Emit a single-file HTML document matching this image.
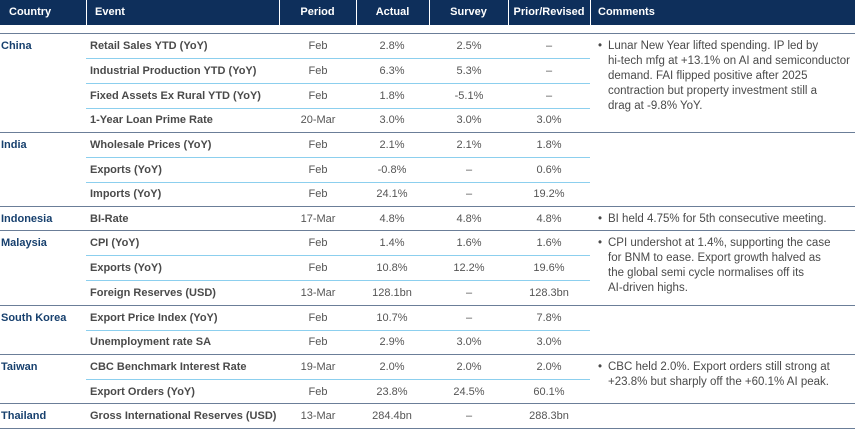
<!DOCTYPE html>
<html><head><meta charset="utf-8"><style>
*{margin:0;padding:0;box-sizing:border-box}
body{width:855px;height:431px;background:#fff;font-family:"Liberation Sans",Arial,sans-serif;position:relative;overflow:hidden}
.hd{position:absolute;top:0;left:0;width:855px;height:25px;background:#0e2f5b}
.hc{position:absolute;top:0;height:25px;line-height:25px;color:#fff;font-weight:bold;font-size:11px}
.vs{position:absolute;top:0;width:1px;height:25px;background:#fff}
.t{position:absolute;font-size:11px;line-height:14px;white-space:nowrap}
.c{color:#17406e;font-weight:bold;left:1px}
.e{color:#4a4a4a;font-weight:bold;left:90px}
.v{color:#555;text-align:center;width:80px}
.m{color:#4a4a4a;left:598px;width:257px;white-space:normal;line-height:15px;font-size:11.5px;padding-left:10px}
.m b{position:absolute;left:0;top:0;font-weight:normal}
.gl{position:absolute;left:0;width:855px;height:1px;background:#6b7e98}
.ll{position:absolute;left:86px;width:504px;height:1px;background:#8ccfee}
</style></head><body>
<div class="hd"></div>
<div class="hc" style="left:9px">Country</div>
<div class="hc" style="left:95px">Event</div>
<div class="hc" style="left:279px;width:77px;text-align:center">Period</div>
<div class="hc" style="left:356px;width:73px;text-align:center">Actual</div>
<div class="hc" style="left:429px;width:79px;text-align:center">Survey</div>
<div class="hc" style="left:508px;width:82px;text-align:center">Prior/Revised</div>
<div class="hc" style="left:598px">Comments</div>
<div class="vs" style="left:86px"></div><div class="vs" style="left:279px"></div><div class="vs" style="left:356px"></div><div class="vs" style="left:429px"></div><div class="vs" style="left:508px"></div><div class="vs" style="left:590px"></div>
<div class="gl" style="top:33px"></div>
<div class="gl" style="top:132px"></div>
<div class="gl" style="top:206px"></div>
<div class="gl" style="top:230px"></div>
<div class="gl" style="top:305px"></div>
<div class="gl" style="top:354px"></div>
<div class="gl" style="top:403px"></div>
<div class="gl" style="top:428px"></div>
<div class="ll" style="top:58px"></div><div class="ll" style="top:83px"></div><div class="ll" style="top:108px"></div>
<div class="ll" style="top:157px"></div><div class="ll" style="top:182px"></div>
<div class="ll" style="top:255px"></div><div class="ll" style="top:280px"></div>
<div class="ll" style="top:330px"></div>
<div class="ll" style="top:379px"></div>

<div class="t c" style="top:39px">China</div>
<div class="t c" style="top:138px">India</div>
<div class="t c" style="top:212px">Indonesia</div>
<div class="t c" style="top:236px">Malaysia</div>
<div class="t c" style="top:311px">South Korea</div>
<div class="t c" style="top:360px">Taiwan</div>
<div class="t c" style="top:409px">Thailand</div>

<div class="t e" style="top:39px">Retail Sales YTD (YoY)</div><div class="t v" style="top:39px;left:278px">Feb</div><div class="t v" style="top:39px;left:352px">2.8%</div><div class="t v" style="top:39px;left:429px">2.5%</div><div class="t v" style="top:39px;left:509px">–</div>
<div class="t e" style="top:64px">Industrial Production YTD (YoY)</div><div class="t v" style="top:64px;left:278px">Feb</div><div class="t v" style="top:64px;left:352px">6.3%</div><div class="t v" style="top:64px;left:429px">5.3%</div><div class="t v" style="top:64px;left:509px">–</div>
<div class="t e" style="top:89px">Fixed Assets Ex Rural YTD (YoY)</div><div class="t v" style="top:89px;left:278px">Feb</div><div class="t v" style="top:89px;left:352px">1.8%</div><div class="t v" style="top:89px;left:429px">-5.1%</div><div class="t v" style="top:89px;left:509px">–</div>
<div class="t e" style="top:113px">1-Year Loan Prime Rate</div><div class="t v" style="top:113px;left:278px">20-Mar</div><div class="t v" style="top:113px;left:352px">3.0%</div><div class="t v" style="top:113px;left:429px">3.0%</div><div class="t v" style="top:113px;left:509px">3.0%</div>

<div class="t e" style="top:138px">Wholesale Prices (YoY)</div><div class="t v" style="top:138px;left:278px">Feb</div><div class="t v" style="top:138px;left:352px">2.1%</div><div class="t v" style="top:138px;left:429px">2.1%</div><div class="t v" style="top:138px;left:509px">1.8%</div>
<div class="t e" style="top:163px">Exports (YoY)</div><div class="t v" style="top:163px;left:278px">Feb</div><div class="t v" style="top:163px;left:352px">-0.8%</div><div class="t v" style="top:163px;left:429px">–</div><div class="t v" style="top:163px;left:509px">0.6%</div>
<div class="t e" style="top:187px">Imports (YoY)</div><div class="t v" style="top:187px;left:278px">Feb</div><div class="t v" style="top:187px;left:352px">24.1%</div><div class="t v" style="top:187px;left:429px">–</div><div class="t v" style="top:187px;left:509px">19.2%</div>

<div class="t e" style="top:212px">BI-Rate</div><div class="t v" style="top:212px;left:278px">17-Mar</div><div class="t v" style="top:212px;left:352px">4.8%</div><div class="t v" style="top:212px;left:429px">4.8%</div><div class="t v" style="top:212px;left:509px">4.8%</div>

<div class="t e" style="top:236px">CPI (YoY)</div><div class="t v" style="top:236px;left:278px">Feb</div><div class="t v" style="top:236px;left:352px">1.4%</div><div class="t v" style="top:236px;left:429px">1.6%</div><div class="t v" style="top:236px;left:509px">1.6%</div>
<div class="t e" style="top:261px">Exports (YoY)</div><div class="t v" style="top:261px;left:278px">Feb</div><div class="t v" style="top:261px;left:352px">10.8%</div><div class="t v" style="top:261px;left:429px">12.2%</div><div class="t v" style="top:261px;left:509px">19.6%</div>
<div class="t e" style="top:286px">Foreign Reserves (USD)</div><div class="t v" style="top:286px;left:278px">13-Mar</div><div class="t v" style="top:286px;left:352px">128.1bn</div><div class="t v" style="top:286px;left:429px">–</div><div class="t v" style="top:286px;left:509px">128.3bn</div>

<div class="t e" style="top:311px">Export Price Index (YoY)</div><div class="t v" style="top:311px;left:278px">Feb</div><div class="t v" style="top:311px;left:352px">10.7%</div><div class="t v" style="top:311px;left:429px">–</div><div class="t v" style="top:311px;left:509px">7.8%</div>
<div class="t e" style="top:335px">Unemployment rate SA</div><div class="t v" style="top:335px;left:278px">Feb</div><div class="t v" style="top:335px;left:352px">2.9%</div><div class="t v" style="top:335px;left:429px">3.0%</div><div class="t v" style="top:335px;left:509px">3.0%</div>

<div class="t e" style="top:360px">CBC Benchmark Interest Rate</div><div class="t v" style="top:360px;left:278px">19-Mar</div><div class="t v" style="top:360px;left:352px">2.0%</div><div class="t v" style="top:360px;left:429px">2.0%</div><div class="t v" style="top:360px;left:509px">2.0%</div>
<div class="t e" style="top:385px">Export Orders (YoY)</div><div class="t v" style="top:385px;left:278px">Feb</div><div class="t v" style="top:385px;left:352px">23.8%</div><div class="t v" style="top:385px;left:429px">24.5%</div><div class="t v" style="top:385px;left:509px">60.1%</div>

<div class="t e" style="top:409px">Gross International Reserves (USD)</div><div class="t v" style="top:409px;left:278px">13-Mar</div><div class="t v" style="top:409px;left:352px">284.4bn</div><div class="t v" style="top:409px;left:429px">–</div><div class="t v" style="top:409px;left:509px">288.3bn</div>

<div class="t m" style="top:39px"><b>•</b>Lunar New Year lifted spending. IP led by<br>hi-tech mfg at +13.1% on AI and semiconductor<br>demand. FAI flipped positive after 2025<br>contraction but property investment still a<br>drag at -9.8% YoY.</div>
<div class="t m" style="top:212px"><b>•</b>BI held 4.75% for 5th consecutive meeting.</div>
<div class="t m" style="top:236px"><b>•</b>CPI undershot at 1.4%, supporting the case<br>for BNM to ease. Export growth halved as<br>the global semi cycle normalises off its<br>AI-driven highs.</div>
<div class="t m" style="top:360px"><b>•</b>CBC held 2.0%. Export orders still strong at<br>+23.8% but sharply off the +60.1% AI peak.</div>
</body></html>
